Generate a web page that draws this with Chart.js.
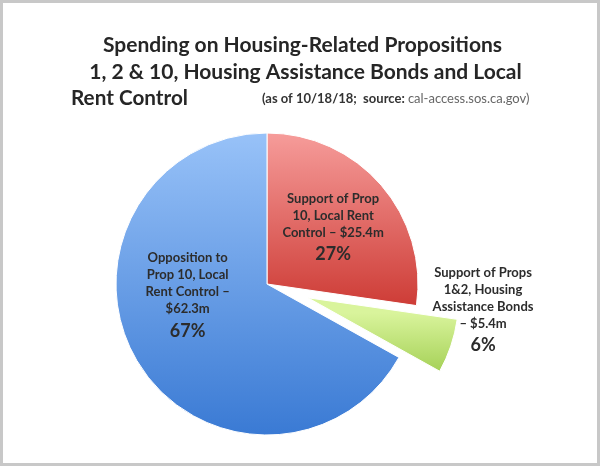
<!DOCTYPE html>
<html>
<head>
<meta charset="utf-8">
<script src="https://cdn.jsdelivr.net/npm/chart.js@4.4.1/dist/chart.umd.min.js"></script>
<style>
  html, body { margin: 0; padding: 0; background: #fff; }
  #frame {
    width: 600px; height: 466px; box-sizing: border-box;
    border: 3px solid #c8c8c8; background: #fff; position: relative;
  }
  #frame canvas { display: block; }
</style>
</head>
<body>
<div id="frame"><canvas id="pieChart"></canvas></div>
<script>
// ============ DATA ============
const categories = [
    'Support of Prop 10, Local Rent Control',
    'Support of Props 1&2, Housing Assistance Bonds',
    'Opposition to Prop 10, Local Rent Control'
];
const spendingMillions = [25.4, 5.4, 62.3];
const labelLines = [
    ['Support of Prop', '10, Local Rent', 'Control \u2013 $25.4m'],
    ['Support of Props', '1&2, Housing', 'Assistance Bonds', '\u2013 $5.4m'],
    ['Opposition to', 'Prop 10, Local', 'Rent Control \u2013', '$62.3m']
];
const titleLines = [
    'Spending on Housing-Related Propositions',
    '1, 2 & 10, Housing Assistance Bonds and Local',
    'Rent Control'
];
const noteBold = '(as of 10/18/18;  source: ';
const noteText = 'cal-access.sos.ca.gov)';

// ============ STYLE ============
const PIE_RADIUS = 151;
const FONT = 'Lato, "Open Sans", sans-serif';
// [top colour, bottom colour, top / bottom of gradient as fraction of radius]
const sliceFills = [
    ['#f69c9a', '#cd3b35', -1.0, 0.16],
    ['#d9f49c', '#97c744', 0.10, 0.60],
    ['#98c2f8', '#3a7ad4', -1.0, 1.0]
];
// label block centre: angle (deg clockwise from 12 o'clock), distance as fraction of radius
const labelPlace = [[49, 0.58], [96.5, 1.44], [262.5, 0.53]];

const total = spendingMillions.reduce((a, b) => a + b, 0);

// Chart.js grows and narrows an exploded slice; undo that so it keeps
// the pie's radius and its true share of the circle
const explodeFix = {
    id: 'explodeFix',
    beforeDatasetsDraw(chart) {
        const meta = chart.getDatasetMeta(0);
        const R = meta.controller.outerRadius;
        meta.data.forEach(arc => {
            const off = (arc.options.offset || 0) / 4;
            if (!off) return;
            const fix = 1 - Math.sin(Math.min(Math.PI, arc.circumference));
            const grow = off * fix;
            arc.outerRadius = R - grow;
            const half = (arc.startAngle + arc.endAngle) / 2;
            const widen = grow / Math.PI / R;
            arc.startAngle = half - arc.circumference / 2 - widen / 2;
            arc.endAngle = half + arc.circumference / 2 + widen / 2;
        });
    }
};

const sliceLabels = {
    id: 'sliceLabels',
    afterDatasetsDraw(chart) {
        const { ctx } = chart;
        const meta = chart.getDatasetMeta(0);
        meta.data.forEach((arc, i) => {
            const [deg, frac] = labelPlace[i];
            const a = (deg - 90) * Math.PI / 180;
            const r = meta.controller.outerRadius * frac;
            const cx = arc.x + Math.cos(a) * r;
            const cy = arc.y + Math.sin(a) * r;
            const lines = labelLines[i];
            const lh = 17, pctGap = 21.5;
            const h = (lines.length - 1) * lh + pctGap;
            let y = cy - h / 2;
            ctx.save();
            ctx.fillStyle = '#2c2c2c';
            ctx.textAlign = 'center';
            ctx.textBaseline = 'middle';
            ctx.font = 'bold 13px ' + FONT;
            lines.forEach(t => { ctx.fillText(t, cx, y); y += lh; });
            y += pctGap - lh;
            ctx.font = 'bold 18px ' + FONT;
            ctx.fillText(Math.round(spendingMillions[i] / total * 100) + '%', cx, y);
            ctx.restore();
        });
    }
};

const header = {
    id: 'header',
    afterDraw(chart) {
        const { ctx } = chart;
        ctx.save();
        ctx.fillStyle = '#262626';
        ctx.textBaseline = 'middle';
        ctx.font = 'bold 21px ' + FONT;
        ctx.textAlign = 'center';
        ctx.fillText(titleLines[0], 299.5, 42, 403);
        ctx.fillText(titleLines[1], 302.5, 69, 433);
        ctx.textAlign = 'left';
        ctx.fillText(titleLines[2], 68, 95, 117);
        ctx.font = 'bold 13px ' + FONT;
        ctx.fillStyle = '#333';
        ctx.fillText(noteBold, 259, 96);
        const w = ctx.measureText(noteBold).width;
        ctx.font = '13px ' + FONT;
        ctx.fillStyle = '#666';
        ctx.fillText(noteText, 259 + w, 96);
        ctx.restore();
    }
};

function sliceFill(c) {
    const area = c.chart.chartArea;
    const s = sliceFills[c.dataIndex];
    if (!area) return s[1];
    const mid = (area.top + area.bottom) / 2;
    const g = c.chart.ctx.createLinearGradient(0, mid + s[2] * PIE_RADIUS, 0, mid + s[3] * PIE_RADIUS);
    g.addColorStop(0, s[0]);
    g.addColorStop(1, s[1]);
    return g;
}

new Chart(document.getElementById('pieChart'), {
    type: 'pie',
    data: {
        labels: categories,
        datasets: [{
            data: spendingMillions,
            backgroundColor: sliceFill,
            borderColor: '#ffffff',
            borderWidth: 1,
            offset: [0, 172, 0]
        }]
    },
    options: {
        responsive: true,
        maintainAspectRatio: false,
        animation: false,
        events: [],
        radius: PIE_RADIUS,
        layout: { padding: { left: 0, right: 66, top: 108, bottom: 6 } },
        plugins: {
            legend: { display: false },
            tooltip: { enabled: false }
        }
    },
    plugins: [explodeFix, sliceLabels, header]
});
</script>
</body>
</html>
